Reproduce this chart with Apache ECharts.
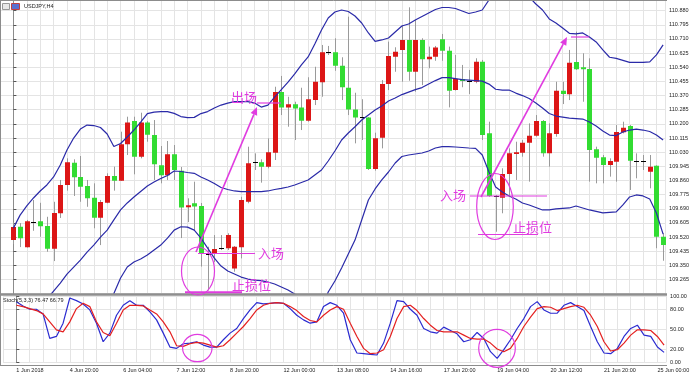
<!DOCTYPE html>
<html><head><meta charset="utf-8">
<script src="https://cdn.jsdelivr.net/npm/echarts@6/dist/echarts.min.js"></script>
<style>html,body{margin:0;padding:0;background:#fff;}#c{width:692px;height:378px;}</style>
</head><body><div id="c"></div>
<script>
const timeLabels = ['1 Jun 2018','4 Jun 20:00','6 Jun 04:00','7 Jun 12:00','8 Jun 20:00','12 Jun 00:00','13 Jun 08:00','14 Jun 16:00','17 Jun 20:00','19 Jun 04:00','20 Jun 12:00','21 Jun 20:00','25 Jun 00:00'];
const open = [109.502,109.582,109.459,109.609,109.615,109.586,109.450,109.663,109.833,109.967,
109.881,109.827,109.756,109.636,109.726,109.887,109.859,110.077,110.217,110.003,
110.209,110.133,109.951,109.891,110.017,109.919,109.699,109.723,109.707,109.418,
109.424,109.453,109.453,109.332,109.459,109.732,109.969,109.969,109.943,110.027,
110.391,110.299,110.318,110.299,110.219,110.343,110.450,110.630,110.630,110.549,
110.417,110.287,110.239,110.239,109.929,110.117,110.439,110.603,110.644,110.704,
110.513,110.704,110.588,110.603,110.708,110.639,110.403,110.469,110.457,110.453,
110.573,110.143,109.767,109.756,109.899,110.019,110.027,110.087,110.129,110.217,
110.023,110.139,110.399,110.378,110.572,110.540,110.530,110.047,109.999,109.953,
109.973,110.149,110.187,109.979,109.979,109.913,109.949,109.522];
const high = [109.610,109.604,109.623,109.743,109.726,109.642,109.732,109.863,109.993,109.987,
110.007,109.863,109.843,109.743,109.903,109.943,110.153,110.243,110.243,110.267,
110.217,110.223,110.067,110.097,110.073,109.941,109.753,109.853,109.725,109.462,
109.532,109.532,109.543,109.466,109.762,110.063,110.023,109.987,110.113,110.423,
110.488,110.363,110.333,110.417,110.480,110.543,110.674,110.668,110.714,110.600,
110.844,110.387,110.348,110.241,110.147,110.463,110.694,110.660,110.794,110.900,
110.824,110.714,110.664,110.668,110.740,110.664,110.614,110.554,110.524,110.594,
110.584,110.213,109.773,109.933,110.053,110.093,110.103,110.203,110.253,110.223,
110.203,110.453,110.453,110.644,110.754,110.624,110.594,110.063,110.013,109.993,
110.193,110.213,110.193,110.023,110.013,110.013,109.951,109.543];
const low = [109.478,109.460,109.457,109.558,109.522,109.432,109.376,109.635,109.799,109.767,
109.732,109.702,109.573,109.472,109.723,109.799,109.857,110.013,109.897,109.993,
110.093,109.863,109.843,109.863,109.863,109.514,109.610,109.562,109.343,109.199,
109.370,109.442,109.442,109.312,109.392,109.723,109.923,109.847,109.933,109.983,
110.253,110.183,110.103,110.163,110.213,110.313,110.363,110.614,110.519,110.343,
110.253,110.083,110.103,109.923,109.919,110.053,110.403,110.513,110.453,110.459,
110.393,110.433,110.534,110.579,110.579,110.299,110.400,110.420,110.379,110.444,
110.103,109.762,109.552,109.663,109.762,109.863,110.003,109.853,110.123,110.003,
109.943,110.123,110.319,110.343,110.524,110.333,109.853,109.843,109.843,109.883,
109.853,110.143,109.803,109.873,109.923,109.813,109.453,109.378];
const close = [109.580,109.513,109.615,109.609,109.585,109.450,109.665,109.833,109.969,109.879,
109.823,109.753,109.636,109.731,109.887,109.859,110.077,110.209,110.003,110.209,
110.135,109.957,109.891,110.017,109.923,109.698,109.711,109.704,109.418,109.418,
109.448,109.453,109.532,109.462,109.743,109.963,109.969,109.943,110.029,110.391,
110.299,110.318,110.293,110.219,110.348,110.453,110.630,110.630,110.549,110.420,
110.287,110.239,110.239,109.929,110.113,110.439,110.608,110.633,110.704,110.513,
110.704,110.588,110.603,110.658,110.639,110.399,110.469,110.457,110.457,110.573,
110.133,109.767,109.767,109.899,110.023,110.029,110.087,110.129,110.217,110.023,
110.143,110.399,110.379,110.567,110.528,110.528,110.043,109.997,109.953,109.977,
110.151,110.177,109.979,109.979,109.979,109.943,109.522,109.472];
const bbUpper = [109.574,109.652,109.707,109.755,109.797,109.833,109.881,109.953,110.043,110.115,
110.169,110.193,110.190,110.178,110.139,110.064,110.082,110.121,110.163,110.211,
110.262,110.271,110.274,110.274,110.263,110.244,110.238,110.239,110.262,110.274,
110.295,110.313,110.325,110.334,110.334,110.334,110.325,110.301,110.313,110.361,
110.406,110.451,110.500,110.554,110.602,110.680,110.764,110.836,110.872,110.884,
110.875,110.848,110.806,110.746,110.695,110.704,110.716,110.752,110.788,110.800,
110.824,110.845,110.866,110.887,110.899,110.899,110.893,110.878,110.863,110.872,
110.884,110.944,110.992,111.016,111.034,111.028,111.010,110.962,110.920,110.884,
110.830,110.806,110.776,110.744,110.740,110.746,110.722,110.692,110.644,110.600,
110.593,110.581,110.569,110.569,110.569,110.572,110.614,110.674];
const bbMiddle = [108.902,108.950,109.004,109.052,109.100,109.148,109.196,109.244,109.298,109.340,
109.382,109.430,109.472,109.520,109.562,109.623,109.683,109.725,109.761,109.794,
109.827,109.851,109.872,109.890,109.917,109.914,109.908,109.903,109.881,109.863,
109.842,109.818,109.806,109.797,109.793,109.793,109.793,109.793,109.797,109.806,
109.813,109.821,109.833,109.848,109.863,109.893,109.923,109.977,110.037,110.103,
110.145,110.183,110.223,110.253,110.283,110.307,110.337,110.355,110.376,110.391,
110.406,110.418,110.439,110.460,110.478,110.478,110.472,110.466,110.463,110.460,
110.457,110.439,110.408,110.403,110.403,110.385,110.370,110.352,110.325,110.295,
110.262,110.247,110.241,110.235,110.232,110.229,110.211,110.187,110.157,110.133,
110.130,110.151,110.163,110.169,110.163,110.154,110.133,110.103];
const bbLower = [108.229,108.247,108.301,108.349,108.403,108.463,108.511,108.535,108.553,108.565,
108.595,108.667,108.754,108.863,108.986,109.181,109.274,109.340,109.370,109.388,
109.412,109.442,109.472,109.514,109.562,109.582,109.580,109.562,109.514,109.454,
109.394,109.346,109.316,109.298,109.280,109.268,109.262,109.259,109.250,109.238,
109.220,109.202,109.178,109.148,109.124,109.106,109.082,109.190,109.256,109.334,
109.418,109.502,109.623,109.743,109.809,109.863,109.911,109.965,110.004,110.013,
110.019,110.025,110.037,110.055,110.063,110.063,110.061,110.058,110.055,110.053,
110.013,109.911,109.821,109.791,109.767,109.749,109.725,109.713,109.698,109.683,
109.683,109.689,109.692,109.695,109.707,109.695,109.683,109.674,109.665,109.668,
109.671,109.713,109.761,109.773,109.767,109.749,109.665,109.538];
const stochK = [91.5,85,80,80,73,36,39,59,97,93,
88,79,59,31,44,71,86,93,86,86,
76,64,44,23,21,28,29,31,26,23,
23,34,44,51,66,79,90,88,89,90,
89,81,71,64,59,61,84,90,86,74,
34,14,13,12,11,29,59,93,91.5,80,
71,51,46,44,53,48,43,31,34,45,
36,16,6,19,34,51,66,84,91.5,79,
74,74,86,90,84,78,54,31,14,13,
21,39,51,56,41,39,23,15];
const stochD = [86,84,81,78,73,61,49,46,61,81,
89,84,61,45,40,59,79,86,86,85,
79,73,61,46,25,24,28,30,29,26,
23,25,34,44,54,66,79,86,89,90,
89,84,78,69,63,61,71,79,84,80,
59,39,21,13,14,19,39,66,84,86,
78,66,56,48,46,46,46,41,36,35,
35,29,20,16,21,36,54,68,81,84,
83,78,81,84,86,83,71,54,31,17,
19,29,41,49,49,48,39,26];
const stochLevels = [0, 20, 50, 80, 100];

const RED = '#dc1616', GREEN = '#32dc32', WICK = '#9a9a9a', BAND = '#2a2aa8', MAG = '#e03ce0';
const FONT = 'Liberation Sans';
const idx = open.map((_, i) => i);
const candleData = idx.map(i => [i, open[i], close[i], low[i], high[i]]);

function renderCandle(params, api) {
  const i = api.value(0), o = api.value(1), c = api.value(2), lo = api.value(3), hi = api.value(4);
  const pH = api.coord([i, hi]), pL = api.coord([i, lo]), pO = api.coord([i, o]), pC = api.coord([i, c]);
  const xr = Math.round(pH[0]);
  const ch = [{type: 'line', shape: {x1: xr + 0.5, y1: pH[1], x2: xr + 0.5, y2: pL[1]}, style: {stroke: WICK, lineWidth: 1}}];
  if (o === c) {
    const y = Math.round(pO[1]) + 0.5;
    ch.push({type: 'line', shape: {x1: xr - 2, y1: y, x2: xr + 3, y2: y}, style: {stroke: '#000', lineWidth: 1}});
  } else {
    const top = Math.min(pO[1], pC[1]);
    const h = Math.max(Math.abs(pO[1] - pC[1]), 1);
    ch.push({type: 'rect', shape: {x: xr - 2, y: top, width: 5, height: h}, style: {fill: c > o ? RED : GREEN}});
  }
  return {type: 'group', children: ch};
}

const gridLine = {show: true, lineStyle: {color: '#e4e4e4', width: 1}};
const xBase = {type: 'value', min: -2, max: 97.3, interval: 2, axisLine: {show: false}, axisTick: {show: false}, splitLine: gridLine};

const chart = echarts.init(document.getElementById('c'), null, {renderer: 'canvas', devicePixelRatio: 1});
const mkLine = (ax, data, color) => ({type: 'line', xAxisIndex: ax, yAxisIndex: ax, data: idx.map(i => [i, data[i]]), showSymbol: false, symbol: 'none', lineStyle: {color: color, width: 1.2}, z: 3, silent: true});

const arrow = (x1, y1, x2, y2) => {
  const dx = x2 - x1, dy = y2 - y1, L = Math.hypot(dx, dy), ux = dx / L, uy = dy / L;
  const bx = x2 - 8 * ux, by = y2 - 8 * uy, nx = -uy, ny = ux;
  return [
    {type: 'line', z: 100, shape: {x1: x1, y1: y1, x2: bx, y2: by}, style: {stroke: MAG, lineWidth: 1.6}},
    {type: 'polygon', z: 100, shape: {points: [[x2, y2], [bx + 3.5 * nx, by + 3.5 * ny], [bx - 3.5 * nx, by - 3.5 * ny]]}, style: {fill: MAG}}
  ];
};
const hline = (x1, x2, y, w) => ({type: 'line', z: 100, shape: {x1: x1, y1: y, x2: x2, y2: y}, style: {stroke: MAG, lineWidth: w || 1.2}});
const ell = (cx, cy, rx, ry) => ({type: 'ellipse', z: 100, shape: {cx: cx, cy: cy, rx: rx, ry: ry}, style: {fill: 'none', stroke: MAG, lineWidth: 1.2}});
const cjk = (t, x, y) => ({type: 'text', z: 100, style: {text: t, x: x, y: y, fill: MAG, fontSize: 13, fontFamily: 'Noto Sans CJK SC', verticalAlign: 'middle', align: 'left'}});
const frame = (x1, y1, x2, y2, w, c) => ({type: 'line', z: 90, shape: {x1: x1, y1: y1, x2: x2, y2: y2}, style: {stroke: c || '#8c8c8c', lineWidth: w || 1}});

chart.setOption({
  animation: false,
  backgroundColor: '#ffffff',
  grid: [
    {left: -13.2, right: 25, top: 0, height: 293.7},
    {left: -13.2, right: 25, top: 296, height: 66.3}
  ],
  xAxis: [
    Object.assign({gridIndex: 0, axisLabel: {show: false}}, xBase),
    Object.assign({gridIndex: 1, axisLabel: {show: true, fontSize: 5.5, fontFamily: FONT, color: '#222', margin: 5, align: 'left',
      formatter: v => (v >= 0 && v % 8 === 0 && timeLabels[v / 8]) ? timeLabels[v / 8] : ''}}, xBase)
  ],
  yAxis: [
    {gridIndex: 0, type: 'value', position: 'right', min: 109.180, max: 110.944, interval: 0.085,
      axisLine: {show: true, lineStyle: {color: '#8c8c8c'}}, axisTick: {show: true, length: 3, lineStyle: {color: '#555'}},
      axisLabel: {fontSize: 5.5, fontFamily: FONT, color: '#222', margin: 4, showMinLabel: false, showMaxLabel: false, formatter: v => v.toFixed(3)},
      splitLine: gridLine},
    {gridIndex: 1, type: 'value', position: 'right', min: 0, max: 100,
      axisLine: {show: true, lineStyle: {color: '#8c8c8c'}}, axisTick: {show: true, length: 3, customValues: stochLevels, lineStyle: {color: '#555'}},
      axisLabel: {fontSize: 5.5, fontFamily: FONT, color: '#222', margin: 4, customValues: stochLevels, formatter: v => v.toFixed(2)},
      splitLine: gridLine}
  ],
  series: [
    {type: 'custom', name: 'USDJPY', xAxisIndex: 0, yAxisIndex: 0, data: candleData, renderItem: renderCandle, clip: true,
      encode: {x: 0, y: [1, 2, 3, 4]}, z: 2, silent: true},
    mkLine(0, bbUpper, BAND), mkLine(0, bbMiddle, BAND), mkLine(0, bbLower, BAND),
    mkLine(1, stochK, '#2b2bd0'), mkLine(1, stochD, '#e42020')
  ],
  graphic: [
    frame(0.5, 0, 0.5, 366), frame(0, 0.5, 667, 0.5),
    {type: 'rect', z: 90, shape: {x: 0, y: 293.3, width: 667, height: 2.4}, style: {fill: '#8e8e8e'}},
    frame(0, 365.5, 667, 365.5),
    {type: 'rect', z: 95, shape: {x: 2.5, y: 3.5, width: 7, height: 6}, style: {fill: '#e8e8e8', stroke: '#999', lineWidth: 1}},
    {type: 'rect', z: 95, shape: {x: 11.5, y: 3.5, width: 8, height: 6}, style: {fill: '#5a6fd0', stroke: '#c04040', lineWidth: 1}},
    {type: 'text', z: 95, style: {text: 'USDJPY,H4', x: 24, y: 6.5, fill: '#222', fontSize: 5.5, fontFamily: FONT, verticalAlign: 'middle'}},
    {type: 'text', z: 95, style: {text: 'Stoch(5,3,3) 76.47 66.79', x: 3, y: 300, fill: '#222', fontSize: 5.5, fontFamily: FONT, verticalAlign: 'middle'}},
    ell(198, 271, 16.5, 24), hline(198, 255, 253.5), cjk('入场', 258, 253.5), cjk('止损位', 232, 285), hline(185, 242, 292.3, 2),
    ...arrow(196, 252, 257, 107), cjk('出场', 231, 97), hline(257, 281, 103),
    ell(495, 206.5, 18.3, 33), hline(470, 547, 196), cjk('入场', 440, 195), cjk('止损位', 513, 227), hline(478, 538, 234.5),
    ...arrow(481, 197, 567, 37), hline(571, 589, 37),
    ell(197.3, 348, 14.7, 13.7), ell(497, 348.3, 18.3, 19)
  ]
});
</script></body></html>
